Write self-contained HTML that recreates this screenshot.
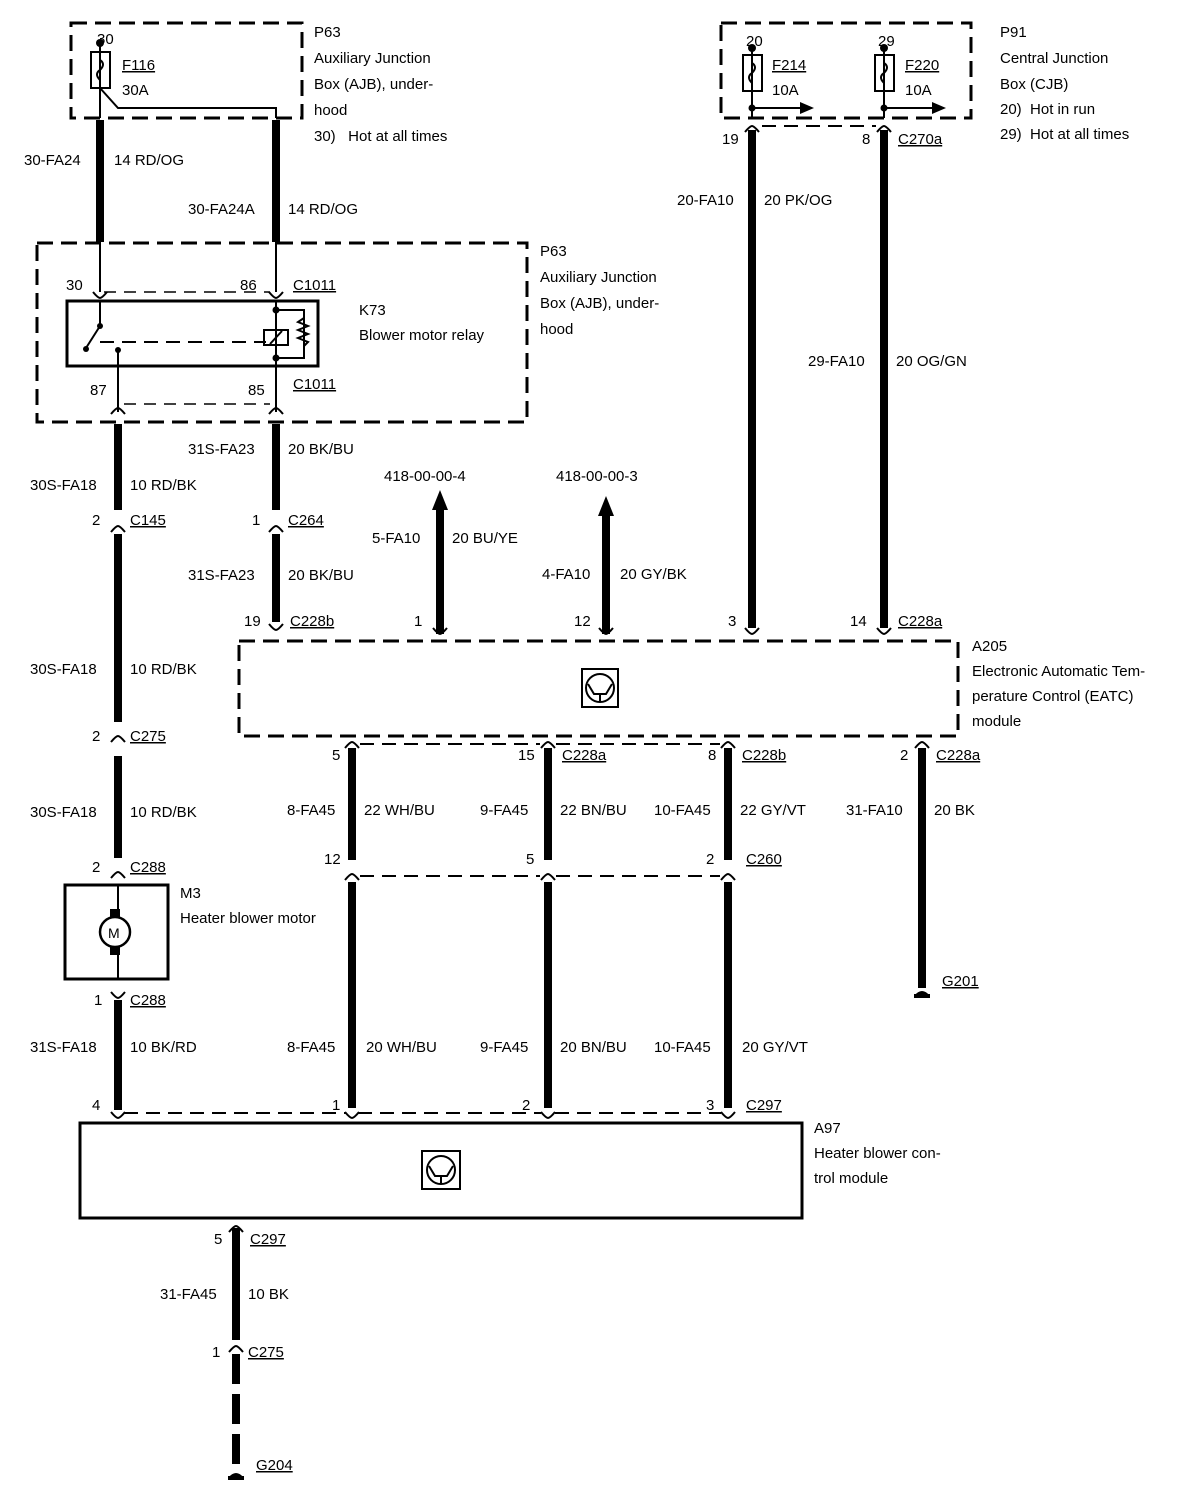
<!DOCTYPE html>
<html><head><meta charset="utf-8"><style>
html,body{margin:0;padding:0;background:#fff}
svg{display:block}
text{font-family:"Liberation Sans",Arial,sans-serif;font-size:15px;fill:#000}
.u{text-decoration:underline}
</style></head><body>
<svg width="1200" height="1504" viewBox="0 0 1200 1504" xmlns="http://www.w3.org/2000/svg">
<defs>
<path id="cd" d="M-7 6 Q-2 0 0 0 Q2 0 7 6" fill="none" stroke="#000" stroke-width="2"/>
<path id="cu" d="M-7 -6 Q-2 0 0 0 Q2 0 7 -6" fill="none" stroke="#000" stroke-width="2"/>
</defs>
<g fill="none" stroke="#000">
<!-- dashed boxes -->
<rect x="71" y="23" width="231" height="95" stroke-width="3" stroke-dasharray="16,8"/>
<rect x="37" y="243" width="490" height="179" stroke-width="3" stroke-dasharray="16,8"/>
<rect x="721" y="23" width="250" height="95" stroke-width="3" stroke-dasharray="16,8"/>
<rect x="239" y="641" width="719" height="95" stroke-width="3" stroke-dasharray="16,8"/>
<!-- solid boxes -->
<rect x="67" y="301" width="251" height="65" stroke-width="3"/>
<rect x="65" y="885" width="103" height="94" stroke-width="3"/>
<rect x="80" y="1123" width="722" height="95" stroke-width="3"/>
<!-- thin wires -->
<g stroke-width="2">
<path d="M100 45 V118"/><path d="M100 88 L118 108 H276 V118"/>
<path d="M100 242 V292"/><path d="M276 242 V292"/>
<path d="M100 300 V326 M100 326 L86 348"/>
<path d="M118 350 V412"/>
<path d="M276 300 V412"/>
<path d="M276 310 H304 V358 H276"/>
<path d="M100 342 H266" stroke-dasharray="14,8"/>
<path d="M104 292 H270" stroke-dasharray="12,8" stroke-width="1.5"/>
<path d="M124 404 H270" stroke-dasharray="12,8" stroke-width="1.5"/>
<path d="M752 48 V118 M884 48 V118"/>
<path d="M752 108 H800 M884 108 H932"/>
<path d="M360 744 H540 M556 744 H720" stroke-dasharray="14,8"/>
<path d="M360 876 H540 M556 876 H720" stroke-dasharray="14,8"/>
<path d="M124 1113 H346 M358 1113 H541 M555 1113 H721" stroke-dasharray="14,8"/>
<path d="M762 126 H876" stroke-dasharray="14,8"/>
<path d="M118 884 V910 M118 952 V980"/>
<path d="M118 118 V118"/>
</g>
<!-- fuses -->
<rect x="91" y="52" width="19" height="36" stroke-width="2"/>
<path d="M100 52 v8 q6 4 0 10 q-6 4 0 10 v8" stroke-width="2"/>
<rect x="743" y="55" width="19" height="36" stroke-width="2"/>
<path d="M752 55 v8 q6 4 0 10 q-6 4 0 10 v8" stroke-width="2"/>
<rect x="875" y="55" width="19" height="36" stroke-width="2"/>
<path d="M884 55 v8 q6 4 0 10 q-6 4 0 10 v8" stroke-width="2"/>
<!-- relay coil & resistor -->
<rect x="264" y="330" width="24" height="15" stroke-width="2"/>
<path d="M270 344 L282 331" stroke-width="2"/>
<path d="M304 318 l-6 4 l10 4 l-10 4 l10 4 l-10 4 l10 4 l-4 4" stroke-width="2"/>
<!-- motor -->
<circle cx="115" cy="932" r="15" stroke-width="2.5"/>
<!-- module icons -->
<rect x="582" y="669" width="36" height="38" stroke-width="2"/>
<circle cx="600" cy="688" r="14" stroke-width="2"/>
<path d="M588 684 L594 694 H606 L612 684 M600 694 V702" stroke-width="2"/>
<rect x="422" y="1151" width="38" height="38" stroke-width="2"/>
<circle cx="441" cy="1170" r="14" stroke-width="2"/>
<path d="M429 1166 L435 1176 H447 L453 1166 M441 1176 V1184" stroke-width="2"/>
<!-- thick wires -->
<g stroke-width="8">
<path d="M100 120 V242 M276 120 V242"/>
<path d="M118 424 V510 M118 534 V722 M118 756 V858 M118 1000 V1110"/>
<path d="M276 424 V510 M276 534 V622"/>
<path d="M440 634 V508 M606 634 V514"/>
<path d="M752 130 V628 M884 130 V628"/>
<path d="M352 748 V860 M352 882 V1108 M548 748 V860 M548 882 V1108 M728 748 V860 M728 882 V1108"/>
<path d="M922 748 V988"/>
<path d="M236 1228 V1340"/>
<path d="M236 1354 V1470" stroke-dasharray="30,10"/>
</g>
</g>
<!-- motor brushes -->
<rect x="110" y="909" width="10" height="8"/><rect x="110" y="947" width="10" height="8"/>
<!-- dots -->
<circle cx="100" cy="43" r="4"/><circle cx="752" cy="48" r="4"/><circle cx="884" cy="48" r="4"/>
<circle cx="752" cy="108" r="3.5"/><circle cx="884" cy="108" r="3.5"/>
<circle cx="100" cy="326" r="3"/><circle cx="86" cy="349" r="3"/><circle cx="118" cy="350" r="3"/>
<circle cx="276" cy="310" r="3.5"/><circle cx="276" cy="358" r="3.5"/>
<!-- arrowheads -->
<path d="M800 102 L814 108 L800 114Z"/><path d="M932 102 L946 108 L932 114Z"/>
<path d="M432 510 L440 490 L448 510Z"/><path d="M598 516 L606 496 L614 516Z"/>
<!-- grounds -->
<path d="M914 996 q8 -10 16 0Z"/><rect x="914" y="994" width="16" height="4"/>
<path d="M228 1478 q8 -10 16 0Z"/><rect x="228" y="1476" width="16" height="4"/>
<!-- connectors -->
<use href="#cu" x="100" y="298"/><use href="#cu" x="276" y="298"/>
<use href="#cd" x="118" y="408"/><use href="#cd" x="276" y="408"/>
<use href="#cd" x="118" y="526"/><use href="#cd" x="276" y="526"/>
<use href="#cd" x="118" y="736"/><use href="#cd" x="118" y="872"/><use href="#cu" x="118" y="998"/>
<use href="#cu" x="276" y="630"/><use href="#cu" x="440" y="634"/><use href="#cu" x="606" y="634"/><use href="#cu" x="752" y="634"/><use href="#cu" x="884" y="634"/>
<use href="#cd" x="752" y="126"/><use href="#cd" x="884" y="126"/>
<use href="#cd" x="352" y="742"/><use href="#cd" x="548" y="742"/><use href="#cd" x="728" y="742"/><use href="#cd" x="922" y="742"/>
<use href="#cd" x="352" y="874"/><use href="#cd" x="548" y="874"/><use href="#cd" x="728" y="874"/>
<use href="#cu" x="118" y="1118"/><use href="#cu" x="352" y="1118"/><use href="#cu" x="548" y="1118"/><use href="#cu" x="728" y="1118"/>
<use href="#cd" x="236" y="1226"/><use href="#cd" x="236" y="1346"/>
<!-- text -->
<text x="97" y="44">30</text>
<text x="122" y="70" class="u">F116</text><text x="122" y="95">30A</text>
<text x="314" y="37">P63</text><text x="314" y="63">Auxiliary Junction</text><text x="314" y="89">Box (AJB), under-</text><text x="314" y="115">hood</text><text x="314" y="141">30)&#160;&#160;&#160;Hot at all times</text>
<text x="24" y="165">30-FA24</text><text x="114" y="165">14 RD/OG</text>
<text x="188" y="214">30-FA24A</text><text x="288" y="214">14 RD/OG</text>
<text x="540" y="256">P63</text><text x="540" y="282">Auxiliary Junction</text><text x="540" y="308">Box (AJB), under-</text><text x="540" y="334">hood</text>
<text x="66" y="290">30</text><text x="240" y="290">86</text><text x="293" y="290" class="u">C1011</text>
<text x="359" y="315">K73</text><text x="359" y="340">Blower motor relay</text>
<text x="90" y="395">87</text><text x="248" y="395">85</text><text x="293" y="389" class="u">C1011</text>
<text x="188" y="454">31S-FA23</text><text x="288" y="454">20 BK/BU</text>
<text x="30" y="490">30S-FA18</text><text x="130" y="490">10 RD/BK</text>
<text x="92" y="525">2</text><text x="130" y="525" class="u">C145</text>
<text x="252" y="525">1</text><text x="288" y="525" class="u">C264</text>
<text x="384" y="481">418-00-00-4</text><text x="556" y="481">418-00-00-3</text>
<text x="372" y="543">5-FA10</text><text x="452" y="543">20 BU/YE</text>
<text x="542" y="579">4-FA10</text><text x="620" y="579">20 GY/BK</text>
<text x="188" y="580">31S-FA23</text><text x="288" y="580">20 BK/BU</text>
<text x="244" y="626">19</text><text x="290" y="626" class="u">C228b</text>
<text x="414" y="626">1</text><text x="574" y="626">12</text><text x="728" y="626">3</text><text x="850" y="626">14</text><text x="898" y="626" class="u">C228a</text>
<text x="722" y="144">19</text><text x="862" y="144">8</text><text x="898" y="144" class="u">C270a</text>
<text x="772" y="70" class="u">F214</text><text x="772" y="95">10A</text><text x="905" y="70" class="u">F220</text><text x="905" y="95">10A</text>
<text x="746" y="46">20</text><text x="878" y="46">29</text>
<text x="1000" y="37">P91</text><text x="1000" y="63">Central Junction</text><text x="1000" y="89">Box (CJB)</text><text x="1000" y="114">20)&#160;&#160;Hot in run</text><text x="1000" y="139">29)&#160;&#160;Hot at all times</text>
<text x="677" y="205">20-FA10</text><text x="764" y="205">20 PK/OG</text>
<text x="808" y="366">29-FA10</text><text x="896" y="366">20 OG/GN</text>
<text x="972" y="651">A205</text><text x="972" y="676">Electronic Automatic Tem-</text><text x="972" y="701">perature Control (EATC)</text><text x="972" y="726">module</text>
<text x="30" y="674">30S-FA18</text><text x="130" y="674">10 RD/BK</text>
<text x="92" y="741">2</text><text x="130" y="741" class="u">C275</text>
<text x="30" y="817">30S-FA18</text><text x="130" y="817">10 RD/BK</text>
<text x="92" y="872">2</text><text x="130" y="872" class="u">C288</text>
<text x="180" y="898">M3</text><text x="180" y="923">Heater blower motor</text>
<text x="108" y="938" style="font-size:14px">M</text>
<text x="332" y="760">5</text><text x="518" y="760">15</text><text x="562" y="760" class="u">C228a</text><text x="708" y="760">8</text><text x="742" y="760" class="u">C228b</text><text x="900" y="760">2</text><text x="936" y="760" class="u">C228a</text>
<text x="287" y="815">8-FA45</text><text x="364" y="815">22 WH/BU</text>
<text x="480" y="815">9-FA45</text><text x="560" y="815">22 BN/BU</text>
<text x="654" y="815">10-FA45</text><text x="740" y="815">22 GY/VT</text>
<text x="846" y="815">31-FA10</text><text x="934" y="815">20 BK</text>
<text x="324" y="864">12</text><text x="526" y="864">5</text><text x="706" y="864">2</text><text x="746" y="864" class="u">C260</text>
<text x="942" y="986" class="u">G201</text>
<text x="94" y="1005">1</text><text x="130" y="1005" class="u">C288</text>
<text x="30" y="1052">31S-FA18</text><text x="130" y="1052">10 BK/RD</text>
<text x="287" y="1052">8-FA45</text><text x="366" y="1052">20 WH/BU</text>
<text x="480" y="1052">9-FA45</text><text x="560" y="1052">20 BN/BU</text>
<text x="654" y="1052">10-FA45</text><text x="742" y="1052">20 GY/VT</text>
<text x="92" y="1110">4</text><text x="332" y="1110">1</text><text x="522" y="1110">2</text><text x="706" y="1110">3</text><text x="746" y="1110" class="u">C297</text>
<text x="814" y="1133">A97</text><text x="814" y="1158">Heater blower con-</text><text x="814" y="1183">trol module</text>
<text x="214" y="1244">5</text><text x="250" y="1244" class="u">C297</text>
<text x="160" y="1299">31-FA45</text><text x="248" y="1299">10 BK</text>
<text x="212" y="1357">1</text><text x="248" y="1357" class="u">C275</text>
<text x="256" y="1470" class="u">G204</text>
</svg>
</body></html>
